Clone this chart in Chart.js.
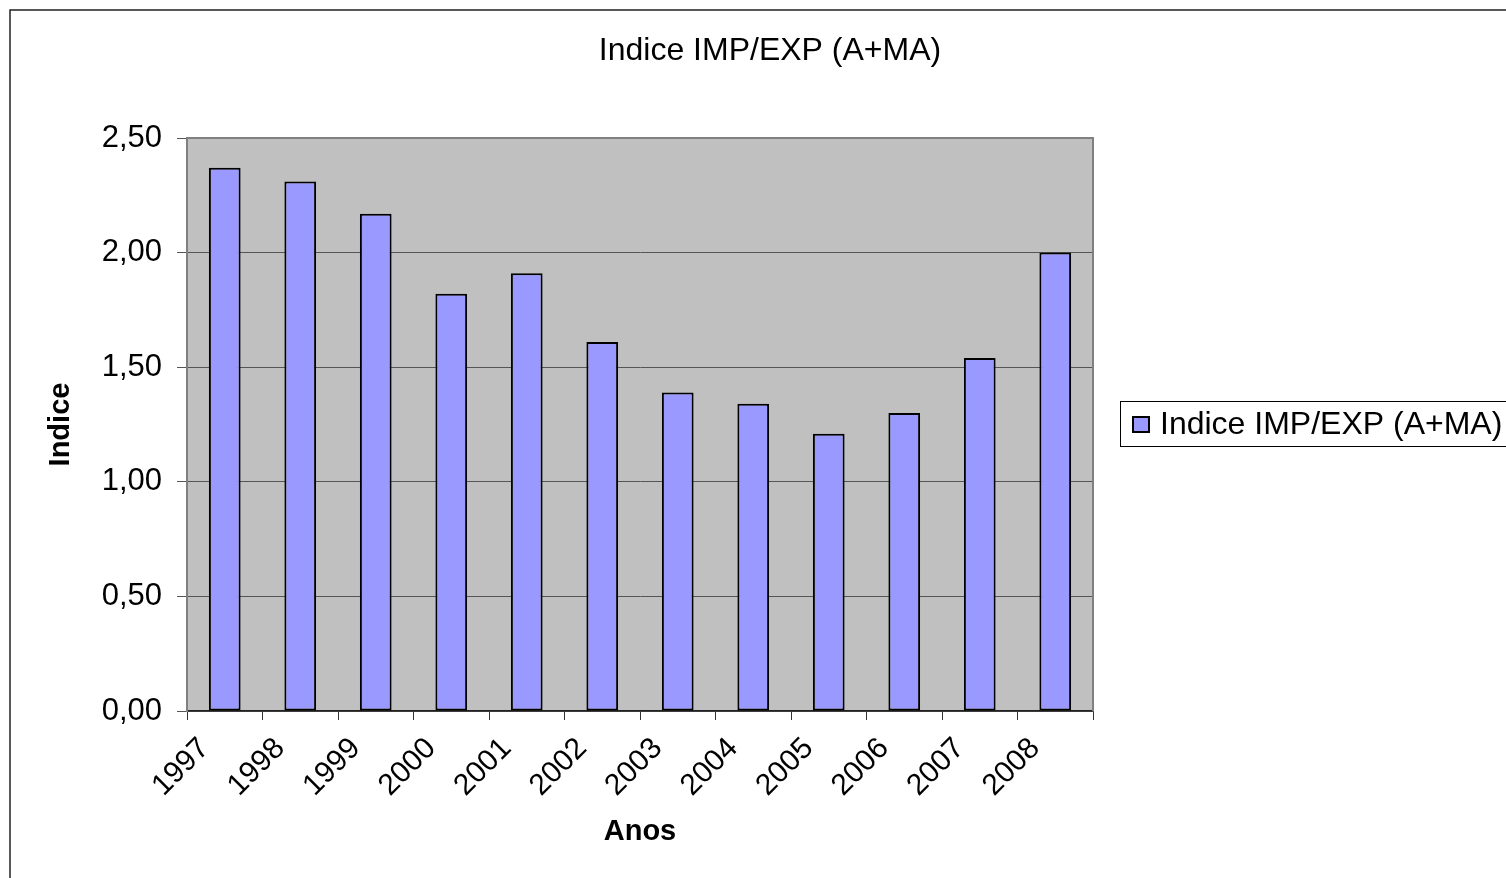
<!DOCTYPE html>
<html>
<head>
<meta charset="utf-8">
<title>Indice IMP/EXP (A+MA)</title>
<script src="https://cdn.jsdelivr.net/npm/chart.js@4.4.1/dist/chart.umd.min.js"></script>
<style>
  html, body { margin: 0; padding: 0; background: #fff; }
  #wrap { position: relative; width: 1506px; height: 878px; }
</style>
</head>
<body>
<div id="wrap"><canvas id="chart"></canvas></div>
<script>
/* ---------- data ---------- */
const chartTitle = 'Indice IMP/EXP (A+MA)';
const seriesName = 'Indice IMP/EXP (A+MA)';
const years = ['1997', '1998', '1999', '2000', '2001', '2002', '2003', '2004', '2005', '2006', '2007', '2008'];
const indexValues = [2.37, 2.31, 2.17, 1.82, 1.91, 1.61, 1.39, 1.34, 1.21, 1.30, 1.54, 2.00];
const yTickValues = [0, 0.5, 1, 1.5, 2, 2.5];
const yTickLabels = ['0,00', '0,50', '1,00', '1,50', '2,00', '2,50'];
const xAxisTitle = 'Anos';
const yAxisTitle = 'Indice';

const FONT = '"Liberation Sans", Arial, Helvetica, sans-serif';
const BAR_FILL = '#9999ff';

/* ---------- frame, plot background, title, legend ---------- */
const excelFrame = {
  id: 'excelFrame',
  beforeDraw(chart) {
    const { ctx, chartArea: a } = chart;
    ctx.save();
    ctx.fillStyle = '#c0c0c0';
    ctx.fillRect(a.left, a.top, a.right - a.left, a.bottom - a.top);
    ctx.restore();
  },
  afterDraw(chart) {
    const { ctx, chartArea: a } = chart;
    ctx.save();
    // plot border (top + right)
    ctx.strokeStyle = '#808080';
    ctx.lineWidth = 2;
    ctx.beginPath();
    ctx.moveTo(a.left, a.top);
    ctx.lineTo(a.right, a.top);
    ctx.lineTo(a.right, a.bottom);
    ctx.stroke();

    // outer chart border (runs off the right / bottom edge)
    ctx.strokeStyle = '#222';
    ctx.lineWidth = 1.5;
    ctx.strokeRect(10, 10, chart.width, chart.height);

    // title
    ctx.fillStyle = '#000';
    ctx.font = `32px ${FONT}`;
    ctx.textAlign = 'center';
    ctx.textBaseline = 'alphabetic';
    ctx.fillText(chartTitle, 770, 60);

    // legend
    const ds = chart.data.datasets[0];
    ctx.strokeStyle = '#000';
    ctx.lineWidth = 1;
    ctx.fillStyle = '#fff';
    ctx.fillRect(1120.5, 401.5, 500, 45);
    ctx.strokeRect(1120.5, 401.5, 500, 45);
    ctx.fillStyle = ds.backgroundColor;
    ctx.fillRect(1133, 417, 16, 15);
    ctx.lineWidth = 2;
    ctx.strokeRect(1133, 417, 16, 15);
    ctx.fillStyle = '#000';
    ctx.font = `32px ${FONT}`;
    ctx.textAlign = 'left';
    ctx.fillText(ds.label, 1160, 434);
    ctx.restore();
  }
};

/* ---------- chart ---------- */
new Chart(document.getElementById('chart'), {
  type: 'bar',
  data: {
    labels: years,
    datasets: [{
      label: seriesName,
      data: indexValues,
      backgroundColor: BAR_FILL,
      borderColor: '#000',
      borderWidth: 2,
      borderSkipped: false,
      categoryPercentage: 1,
      barPercentage: 0.42
    }]
  },
  options: {
    responsive: true,
    maintainAspectRatio: false,
    animation: false,
    layout: { padding: { top: 138, right: 413, bottom: 0, left: 0 } },
    plugins: {
      legend: { display: false },
      title: { display: false },
      tooltip: { enabled: false }
    },
    scales: {
      x: {
        afterFit: (s) => { s.height = 167; },
        grid: { drawOnChartArea: false, offset: true, tickLength: 9, color: '#333', tickWidth: 1 },
        border: { color: '#222', width: 1.5 },
        ticks: {
          color: '#000',
          font: { family: FONT, size: 30 },
          minRotation: 45,
          maxRotation: 45,
          autoSkip: false,
          labelOffset: -20,
          padding: 11
        },
        title: {
          display: true,
          text: xAxisTitle,
          color: '#000',
          font: { family: FONT, size: 29, weight: 'bold' },
          padding: { top: 0, bottom: 29 }
        }
      },
      y: {
        min: 0,
        max: 2.5,
        afterFit: (s) => { s.width = 187; },
        afterBuildTicks: (s) => { s.ticks = yTickValues.map(v => ({ value: v })); },
        grid: { color: '#555', lineWidth: 1, tickLength: 10, tickColor: '#555' },
        border: { color: '#808080', width: 2 },
        ticks: {
          color: '#000',
          font: { family: FONT, size: 31 },
          padding: 15,
          callback: (v) => yTickLabels[yTickValues.indexOf(v)]
        },
        title: {
          display: true,
          text: yAxisTitle,
          color: '#000',
          font: { family: FONT, size: 29, weight: 'bold' },
          padding: { top: 44, bottom: 0 }
        }
      }
    }
  },
  plugins: [excelFrame]
});
</script>
</body>
</html>
